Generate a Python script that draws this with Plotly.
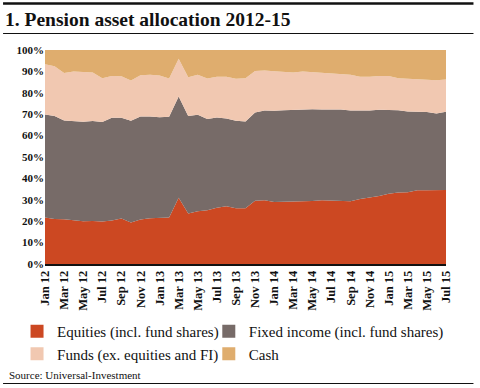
import plotly.graph_objects as go

months = ["Jan 12","Feb 12","Mar 12","Apr 12","May 12","Jun 12","Jul 12","Aug 12","Sep 12","Oct 12","Nov 12","Dec 12",
          "Jan 13","Feb 13","Mar 13","Apr 13","May 13","Jun 13","Jul 13","Aug 13","Sep 13","Oct 13","Nov 13","Dec 13",
          "Jan 14","Feb 14","Mar 14","Apr 14","May 14","Jun 14","Jul 14","Aug 14","Sep 14","Oct 14","Nov 14","Dec 14",
          "Jan 15","Feb 15","Mar 15","Apr 15","May 15","Jun 15","Jul 15"]
tick_labels = months[::2]

equities = [21.7,21.0,20.9,20.5,20.0,20.1,19.9,20.3,21.3,19.4,20.8,21.4,
            21.7,21.7,30.9,23.6,24.7,25.1,26.3,27.0,26.0,26.0,29.6,29.8,
            29.0,29.1,29.1,29.2,29.4,29.8,29.7,29.7,29.3,30.4,31.0,31.8,
            32.8,33.4,33.5,34.5,34.5,34.5,34.6]
fixed_income = [48.2,48.2,46.1,46.3,46.5,46.7,46.4,48.0,47.0,47.5,48.1,47.5,
                46.9,47.1,47.4,45.6,45.0,42.7,42.1,41.0,40.9,40.6,41.2,41.9,
                42.6,42.8,42.9,43.2,42.9,42.4,42.5,42.5,42.4,41.3,40.7,40.3,
                39.2,38.4,37.8,36.5,36.5,35.8,36.6]
funds = [23.4,23.2,22.3,23.2,23.2,22.7,20.5,19.5,19.4,18.9,19.3,19.5,
         19.5,17.9,17.6,18.1,18.7,18.9,19.1,19.5,19.7,20.2,19.4,18.7,
         18.5,17.9,17.5,17.5,17.3,17.3,17.1,16.6,16.7,15.8,15.8,15.8,
         15.8,15.0,15.3,15.5,15.4,15.6,15.0]
cash = [6.7,7.6,10.7,10.0,10.3,10.5,13.2,12.2,12.3,14.2,11.8,11.6,
        11.9,13.3,4.1,12.7,11.6,13.3,12.5,12.5,13.4,13.2,9.8,9.6,
        9.9,10.2,10.5,10.1,10.4,10.5,10.7,11.2,11.6,12.5,12.5,12.1,
        12.2,13.2,13.4,13.5,13.6,14.1,13.8]

series_names = ["Equities (incl. fund shares)", "Fixed income (incl. fund shares)",
                "Funds (ex. equities and FI)", "Cash"]
series_values = [equities, fixed_income, funds, cash]
colors = ["#CC4822", "#776B68", "#F1C8B1", "#DFAD6E"]
legend_slot = ["legend", "legend2", "legend", "legend2"]

SERIF = "Liberation Serif"

fig = go.Figure()
for name, vals, col in zip(series_names, series_values, colors):
    fig.add_trace(go.Scatter(x=months, y=vals, name=name, stackgroup="one",
                             mode="lines", line=dict(width=0, color=col),
                             fillcolor=col, showlegend=False, hoverinfo="skip"))
for name, col, lg in zip(series_names, colors, legend_slot):
    fig.add_trace(go.Scatter(x=[None], y=[None], name=name, mode="markers",
                             marker=dict(symbol="square", size=13, color=col),
                             showlegend=True, legend=lg, legendgroup=name))

L, R, T, B = 45, 33.5, 50, 124
W, H = 480, 388
pw, ph = W - L - R, H - T - B

def px_x(x):
    return (x - L) / pw

def px_y(y):
    return (H - B - y) / ph

legend_common = dict(orientation="v", xanchor="left", yanchor="top", traceorder="normal",
                     font=dict(family=SERIF, size=15, color="#111111"),
                     itemclick=False, tracegroupgap=0, bgcolor="rgba(0,0,0,0)")

fig.update_layout(
    width=W, height=H,
    margin=dict(l=L, r=R, t=T, b=B),
    paper_bgcolor="white", plot_bgcolor="white",
    font=dict(family=SERIF, color="#111111"),
    showlegend=True,
    legend=dict(x=px_x(17), y=px_y(315), **legend_common),
    legend2=dict(x=px_x(209), y=px_y(315), **legend_common),
    xaxis=dict(type="category", range=[0, len(months) - 1],
               tickmode="array", tickvals=tick_labels, ticktext=tick_labels,
               tickangle=-90, tickfont=dict(family=SERIF, size=12.5, color="#111111", weight="bold"),
               showgrid=False, zeroline=False, showline=True, linecolor="#111111", linewidth=1.5,
               ticks=""),
    yaxis=dict(range=[0, 100], tickmode="linear", tick0=0, dtick=10, ticksuffix="%",
               tickfont=dict(family=SERIF, size=11, color="#111111", weight="bold"),
               showgrid=False, zeroline=False, showline=False, ticks=""),
    shapes=[
        dict(type="line", xref="paper", yref="paper", x0=px_x(3), x1=px_x(474),
             y0=px_y(3.5), y1=px_y(3.5), line=dict(color="#111111", width=2.5)),
        dict(type="line", xref="paper", yref="paper", x0=px_x(3), x1=px_x(474),
             y0=px_y(33.5), y1=px_y(33.5), line=dict(color="#111111", width=1.2)),
        dict(type="line", xref="paper", yref="paper", x0=px_x(3), x1=px_x(474),
             y0=px_y(383.5), y1=px_y(383.5), line=dict(color="#111111", width=1)),
    ],
    annotations=[
        dict(text="1. Pension asset allocation 2012-15", xref="paper", yref="paper",
             x=px_x(3), y=px_y(7.5), xanchor="left", yanchor="top", showarrow=False,
             font=dict(family=SERIF, size=19.5, color="#111111", weight="bold")),
        dict(text="Source: Universal-Investment", xref="paper", yref="paper",
             x=px_x(7), y=px_y(383), xanchor="left", yanchor="bottom", showarrow=False,
             font=dict(family=SERIF, size=11, color="#111111")),
    ],
)

fig.write_html("out.html", config={"displayModeBar": False},
               post_script="document.body.style.margin='0';document.body.style.overflow='hidden';")
